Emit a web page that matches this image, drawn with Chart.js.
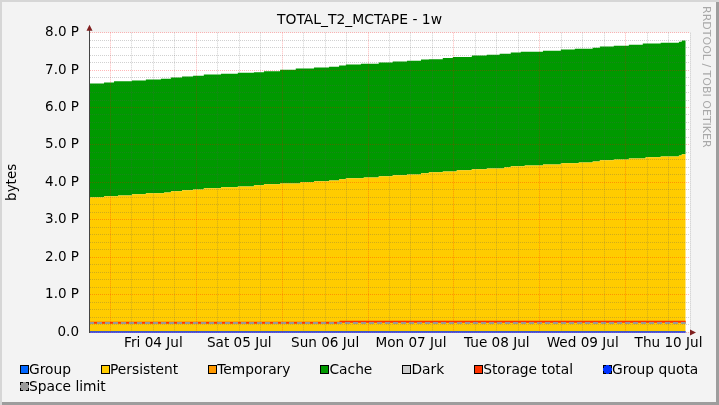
<!DOCTYPE html>
<html><head><meta charset="utf-8">
<script src="https://cdn.jsdelivr.net/npm/chart.js@4.4.1/dist/chart.umd.min.js"></script>
<style>
html,body{margin:0;padding:0;background:#f3f3f3;}
#wrap{position:relative;width:719px;height:405px;background:#f3f3f3;overflow:hidden;font-family:'DejaVu Sans',sans-serif;}
#frame{position:absolute;left:0;top:0;width:719px;height:405px;box-sizing:border-box;box-shadow:inset 2px 2px 0 #d6d6d6, inset -3px -3px 0 #9d9d9d;pointer-events:none;}
canvas{position:absolute;left:0;top:0;}
#legend{position:absolute;left:20px;top:361px;width:695px;display:flex;flex-wrap:wrap;column-gap:30px;row-gap:0;font-size:13.8px;line-height:17px;color:#000;}
.item{display:flex;align-items:center;white-space:nowrap;}
.box{width:9px;height:9px;box-sizing:border-box;border:1px solid #000;}
.box.dashed{border-style:dashed;}
</style></head>
<body>
<div id="wrap">
<canvas id="c" width="719" height="405"></canvas>
<div id="legend"></div>
<div id="frame"></div>
</div>
<script>
// ---- text ----
const chartTitle = 'TOTAL_T2_MCTAPE - 1w';
const yAxisTitle = 'bytes';
const watermark = 'RRDTOOL / TOBI OETIKER';
const seriesNames = ['Group','Persistent','Temporary','Cache','Dark','Storage total','Group quota','Space limit'];
const dayLabels = ['Fri 04 Jul','Sat 05 Jul','Sun 06 Jul','Mon 07 Jul','Tue 08 Jul','Wed 09 Jul','Thu 10 Jul'];
const dayLabelHours = [18,42,66,90,114,138,162];      // noon of each day, hours since Thu 03 Jul 18:00
const midnightHours = [6,30,54,78,102,126,150];
const yTickLabels = ['0.0','1.0 P','2.0 P','3.0 P','4.0 P','5.0 P','6.0 P','7.0 P','8.0 P'];

// ---- data (PB), x = hours since Thu 03 Jul 18:00 ----
const stepHours = [0,4.2,7.0,8.1,12.0,15.9,20.1,21.0,22.9,26.0,29.1,32.1,36.9,41.6,46.1,48.9,53.4,57.8,59.0,62.9,
  67.1,69.9,71.8,76.0,76.8,81.0,84.9,88.9,92.8,95.0,98.9,101.7,102.8,107.0,111.2,114.8,116.0,117.9,120.7,121.8,
  126.9,131.9,135.8,136.9,140.8,142.8,146.7,150.9,154.8,155.6,159.8,164.9,165.7,166.8];
const persistentPB = [3.60,3.63,3.63,3.65,3.68,3.71,3.71,3.73,3.76,3.79,3.81,3.84,3.87,3.89,3.92,3.95,3.97,3.97,4.00,4.03,
  4.05,4.08,4.11,4.11,4.13,4.16,4.19,4.21,4.24,4.27,4.29,4.29,4.32,4.35,4.37,4.37,4.40,4.43,4.43,4.45,
  4.48,4.51,4.51,4.53,4.56,4.59,4.61,4.64,4.64,4.67,4.69,4.72,4.75,4.75];
const cachePB = [3.04,3.04,3.07,3.05,3.04,3.04,3.06,3.04,3.04,3.04,3.04,3.04,3.03,3.04,3.02,3.02,3.04,3.07,3.04,3.04,
  3.04,3.04,3.04,3.06,3.04,3.04,3.04,3.04,3.04,3.02,3.03,3.06,3.03,3.04,3.04,3.07,3.04,3.04,3.06,3.04,
  3.04,3.04,3.06,3.04,3.04,3.04,3.04,3.04,3.07,3.04,3.04,3.04,3.04,3.04];
const lineHours = [0,166.8];
const groupPB = [0,0];
const temporaryPB = [0,0];
const darkPB = [0,0];
const groupQuotaPB = [0,0];
const spaceLimitPB = [0.24,0.24];
const storageHours = [0,70.3,166.8];
const storageTotalPB = [0.245,0.275,0.275];

// ---- styles ----
const colors = {Group:'#0066FF',Persistent:'#FFCC00',Temporary:'#FF9900',Cache:'#009900',Dark:'#CCCCCC',
  'Storage total':'#FF3300','Group quota':'#0033FF','Space limit':'#999999'};
const dashedBox = {'Group quota':true,'Space limit':true};
const FONT = 'DejaVu Sans';
const majorGrid = 'rgba(255,0,0,0.28)';
const minorGrid = 'rgba(90,90,90,0.28)';

const pts = (xs, ys) => xs.map((x, i) => ({x: x, y: ys[i]}));

const datasets = [
  {label:'Group', data:pts(lineHours, groupPB), borderWidth:0, borderColor:colors.Group, fill:false, stack:'g', order:3},
  {label:'Persistent', data:pts(stepHours, persistentPB), borderWidth:0, backgroundColor:colors.Persistent, fill:'origin', stepped:true, stack:'usage', order:4},
  {label:'Temporary', data:pts(lineHours, temporaryPB), borderWidth:0, borderColor:colors.Temporary, fill:false, stack:'t', order:5},
  {label:'Cache', data:pts(stepHours, cachePB), borderWidth:0, backgroundColor:colors.Cache, fill:1, stepped:true, stack:'usage', order:6},
  {label:'Dark', data:pts(lineHours, darkPB), borderWidth:0, borderColor:colors.Dark, fill:false, stack:'d', order:7},
  {label:'Storage total', data:pts(storageHours, storageTotalPB), borderWidth:2, borderColor:colors['Storage total'], fill:false, stepped:true, stack:'s', order:1},
  {label:'Group quota', data:pts(lineHours, groupQuotaPB), borderWidth:1.5, borderColor:colors['Group quota'], fill:false, stack:'q', order:2, clip:false},
  {label:'Space limit', data:pts(lineHours, spaceLimitPB), borderWidth:2, borderColor:colors['Space limit'], borderDash:[5,3], fill:false, stack:'l', order:0}
];

const decor = {
  id:'decor',
  beforeDraw(chart){
    const {ctx, chartArea:a} = chart;
    ctx.save();
    ctx.fillStyle = '#ffffff';
    ctx.fillRect(a.left, a.top, a.right - a.left, a.bottom - a.top);
    ctx.restore();
  },
  afterDraw(chart){
    const {ctx, chartArea:a} = chart;
    const x0 = Math.round(a.left) + 0.5, y0 = Math.round(a.bottom) + 0.5;
    ctx.save();
    ctx.strokeStyle = '#444444'; ctx.lineWidth = 1;
    ctx.beginPath(); ctx.moveTo(x0, a.top); ctx.lineTo(x0, a.top - 4); ctx.stroke();
    ctx.beginPath(); ctx.moveTo(a.right, y0); ctx.lineTo(a.right + 3, y0); ctx.stroke();
    ctx.fillStyle = '#7f1f1f';
    ctx.beginPath(); ctx.moveTo(x0 - 3, a.top - 2); ctx.lineTo(x0 + 3, a.top - 2); ctx.lineTo(x0, a.top - 8); ctx.closePath(); ctx.fill();
    ctx.beginPath(); ctx.moveTo(a.right, y0 - 3); ctx.lineTo(a.right, y0 + 3); ctx.lineTo(a.right + 6, y0); ctx.closePath(); ctx.fill();
    ctx.translate(703, 6);
    ctx.rotate(Math.PI / 2);
    ctx.font = '11px "' + FONT + '"';
    ctx.fillStyle = '#a8a8a8';
    ctx.textBaseline = 'alphabetic';
    ctx.fillText(watermark, 0, 0);
    ctx.restore();
  }
};

const isInt = v => Math.abs(v - Math.round(v)) < 1e-6;

new Chart(document.getElementById('c'), {
  type:'line',
  data:{datasets:datasets},
  plugins:[decor],
  options:{
    responsive:false,
    animation:false,
    events:[],
    elements:{point:{radius:0}, line:{tension:0}},
    layout:{padding:{left:0, right:0, top:0, bottom:43}},
    plugins:{
      legend:{display:false},
      tooltip:{enabled:false},
      title:{display:true, text:chartTitle, color:'#000', font:{family:FONT, size:13.9, weight:'normal'}, padding:{top:12, bottom:4}}
    },
    scales:{
      x:{
        type:'linear', min:0, max:168,
        ticks:{stepSize:6, autoSkip:false, maxRotation:0, padding:3, color:'#000', font:{family:FONT, size:13.6},
          callback:v => { const i = dayLabelHours.indexOf(Math.round(v)); return i >= 0 && isInt(v) ? dayLabels[i] : ''; }},
        grid:{z:1, drawTicks:false, lineWidth:1,
          color:c => (c.tick && midnightHours.indexOf(Math.round(c.tick.value)) >= 0) ? majorGrid : minorGrid},
        border:{display:true, color:'#444444', width:1, dash:[1,1], z:0},
        afterFit:s => { s.height = 30; }
      },
      y:{
        type:'linear', min:0, max:8, stacked:true,
        ticks:{stepSize:0.2, autoSkip:false, padding:10, color:'#000', font:{family:FONT, size:13.5},
          callback:v => isInt(v) ? yTickLabels[Math.round(v)] : ''},
        grid:{z:1, drawTicks:false, lineWidth:1,
          color:c => (c.tick && isInt(c.tick.value)) ? majorGrid : minorGrid},
        border:{display:true, color:'#444444', width:1, dash:[1,1], z:2},
        title:{display:true, text:yAxisTitle, color:'#000', font:{family:FONT, size:13.5}, padding:{top:4, bottom:0}},
        afterFit:s => { s.width = 89; }
      },
      side:{
        type:'linear', position:'right', display:true,
        grid:{display:false}, border:{display:false}, ticks:{display:false},
        afterFit:s => { s.width = 29; }
      }
    }
  }
});

// HTML legend
const lg = document.getElementById('legend');
seriesNames.forEach(n => {
  const it = document.createElement('div'); it.className = 'item';
  const b = document.createElement('span'); b.className = 'box' + (dashedBox[n] ? ' dashed' : '');
  b.style.background = colors[n];
  const t = document.createElement('span'); t.textContent = n;
  it.appendChild(b); it.appendChild(t); lg.appendChild(it);
});
</script>
</body></html>
